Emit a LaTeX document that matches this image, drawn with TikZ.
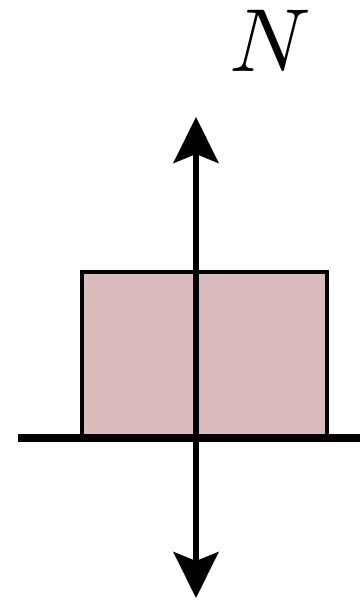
\documentclass[tikz,border=0pt]{standalone}
\usepackage{graphicx}
\usepackage{xcolor}
\usetikzlibrary{arrows.meta}
\definecolor{BlockPink}{HTML}{DBBCBC}

\tikzset{
  blockbox/.style={draw=black,fill=BlockPink,line width=2.5pt,inner sep=0pt,
    minimum width=4.9cm,minimum height=3.3cm},
  ground/.style={line width=4.6pt},
  force/.style={line width=3.4pt,{Stealth[length=0.92cm,width=0.9cm,inset=0.18cm]}-{Stealth[length=0.92cm,width=0.9cm,inset=0.18cm]}}
}

\begin{document}
\begin{tikzpicture}[x=0.02cm,y=-0.02cm]
\path[use as bounding box] (0,0) rectangle (360,601);
\node[blockbox] (block) at (204.5,354.5) {};
\coordinate (gLeft) at (18,438);
\coordinate (gRight) at (360,438);
\draw[ground] (gLeft) -- (gRight);
\coordinate (nTop) at (196,117);
\coordinate (nBot) at (196,598);
\draw[force] (nBot) -- (nTop);
\node[inner sep=0pt] (nLabel) at (270,41) {\scalebox{5.1}{$N$}};
\end{tikzpicture}
\end{document}
